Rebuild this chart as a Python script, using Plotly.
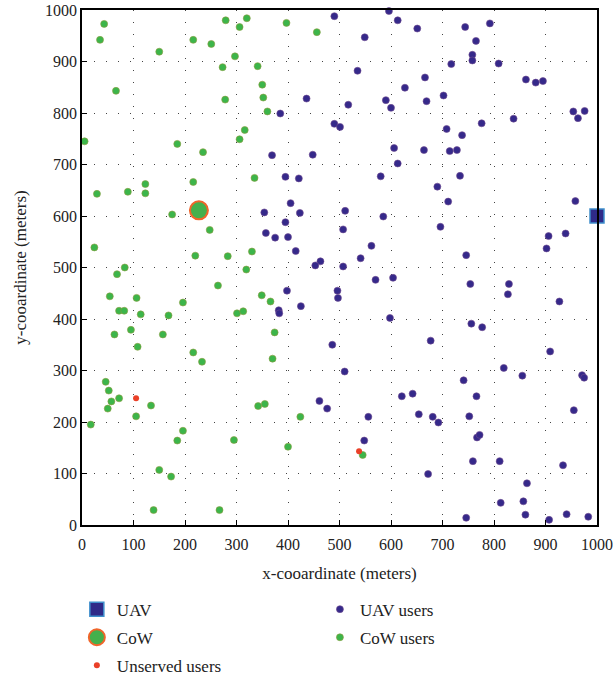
import plotly.graph_objects as go

# Positions (meters) of the aerial base station, the cell-on-wheels and the users
uav_x = [1000]
uav_y = [600]

cow_x = [227]
cow_y = [611]

uav_users_x = [490, 596, 613, 651, 549, 535, 627, 436, 517, 590, 600, 385, 490, 501, 606, 369, 448, 613,
               395, 421, 580, 405, 511, 354, 423, 585, 395, 507, 357, 375, 400, 562, 415, 541, 463, 453, 507,
               744, 792, 765, 758, 758, 717, 809, 666, 862, 881, 895, 702, 669, 954, 976, 963, 838, 776, 708,
               738, 664, 714, 728, 734, 690, 711, 958, 696, 906, 939, 902, 746,
               398, 496, 497, 570, 604, 425, 382, 383, 598, 486, 510, 461, 476, 556, 621, 642, 654, 548,
               754, 829, 827, 927, 756, 777, 677, 909, 819, 855, 741, 971, 975, 766, 681, 692, 752, 955,
               767, 772, 759, 811, 934, 672, 864, 813, 857, 746, 861, 907, 941, 983]
uav_users_y = [988, 998, 980, 964, 947, 882, 849, 828, 816, 825, 810, 799, 779, 773, 732, 718, 719, 702,
               676, 673, 677, 625, 610, 607, 606, 599, 588, 574, 567, 558, 559, 542, 532, 518, 512, 504, 502,
               967, 974, 940, 913, 902, 895, 896, 869, 865, 859, 862, 834, 823, 803, 804, 790, 789, 780, 769,
               757, 728, 726, 728, 678, 657, 628, 629, 579, 561, 566, 537, 524,
               455, 455, 441, 476, 480, 425, 417, 411, 402, 350, 298, 241, 226, 210, 250, 255, 215, 164,
               468, 468, 448, 434, 391, 384, 358, 337, 305, 290, 281, 291, 286, 250, 210, 199, 211, 223,
               170, 175, 124, 124, 116, 99, 81, 43, 46, 14, 20, 10, 21, 16]

cow_users_x = [43, 35, 279, 320, 306, 216, 251, 150, 297, 273, 66, 278, 316, 306, 5, 185, 235, 216, 89, 123,
               123, 29, 175, 248, 24, 220, 283, 330, 83, 319,
               397, 456, 341, 350, 352, 360, 335,
               68, 264, 54, 106, 72, 82, 114, 196, 168, 301, 313, 95, 63, 157, 108, 216, 233, 46, 52, 57, 72,
               50, 134, 105, 17, 196, 185, 295, 150, 173, 139, 267,
               349, 366, 374, 370, 342, 355, 424, 400, 545]
cow_users_y = [973, 942, 980, 984, 967, 942, 934, 919, 910, 889, 843, 826, 767, 749, 745, 740, 724, 666, 647,
               662, 644, 643, 603, 573, 539, 523, 522, 531, 500, 496,
               975, 957, 891, 855, 830, 803, 674,
               487, 465, 444, 441, 416, 416, 409, 432, 407, 411, 415, 379, 370, 370, 346, 335, 317, 278, 261,
               240, 246, 226, 232, 211, 195, 183, 164, 165, 107, 94, 29, 29,
               446, 434, 374, 323, 231, 235, 210, 152, 136]

unserved_x = [105, 538]
unserved_y = [246, 143]

tick_vals = list(range(0, 1001, 100))

SERIF = "Liberation Serif"
BLUE = "#35298a"
GREEN = "#3cb54a"
RED = "#ea4028"

fig = go.Figure()

fig.add_trace(go.Scatter(
    x=uav_users_x, y=uav_users_y, mode="markers", name="UAV users",
    legend="legend2", legendgroup="g4", legendrank=1, cliponaxis=False,
    marker=dict(size=7, color=BLUE, line=dict(width=0.6, color="#6e4a8e")),
))
fig.add_trace(go.Scatter(
    x=cow_users_x, y=cow_users_y, mode="markers", name="CoW users",
    legend="legend2", legendgroup="g5", legendrank=2, cliponaxis=False,
    marker=dict(size=7, color=GREEN, line=dict(width=0.6, color="#8c9a3c")),
))
fig.add_trace(go.Scatter(
    x=unserved_x, y=unserved_y, mode="markers", name="Unserved users",
    legend="legend", legendgroup="g3", legendrank=3, cliponaxis=False,
    marker=dict(size=6, color=RED),
))
fig.add_trace(go.Scatter(
    x=uav_x, y=uav_y, mode="markers", name="UAV",
    legend="legend", legendgroup="g1", legendrank=1, cliponaxis=False,
    marker=dict(symbol="square", size=14, color="#2f2a88", line=dict(width=1.5, color="#3f8fcc")),
))
fig.add_trace(go.Scatter(
    x=cow_x, y=cow_y, mode="markers", name="CoW",
    legend="legend", legendgroup="g2", legendrank=2, cliponaxis=False,
    marker=dict(size=18, color="#44b04c", line=dict(width=2, color="#f0652a")),
))

axis_common = dict(
    range=[0, 1000], tickvals=tick_vals, ticks="inside", ticklen=5, tickwidth=1, tickcolor="black",
    showline=True, linecolor="black", linewidth=1.5, mirror=True, automargin=False,
    showgrid=True, gridcolor="#444444", gridwidth=1, griddash="1px,11px",
    zeroline=False, tickfont=dict(family=SERIF, size=16, color="#222"),
)

legend_common = dict(
    yref="container", y=0.130, xanchor="left", yanchor="top", orientation="v",
    font=dict(family=SERIF, size=17, color="#222"), tracegroupgap=3,
    traceorder="grouped", bgcolor="rgba(0,0,0,0)",
)

fig.update_layout(
    width=613, height=680,
    margin=dict(l=82, r=16, t=10, b=155),
    plot_bgcolor="white", paper_bgcolor="white",
    font=dict(family=SERIF, color="#222"),
    xaxis=dict(axis_common, ticklabelstandoff=4,
               title=dict(text="x-cooardinate (meters)", font=dict(family=SERIF, size=17), standoff=15)),
    yaxis=dict(axis_common,
               title=dict(text="y-cooardinate (meters)", font=dict(family=SERIF, size=17), standoff=14)),
    legend=dict(legend_common, x=-0.01),
    legend2=dict(legend_common, x=0.462),
    showlegend=True,
)

fig.write_html("out.html")
